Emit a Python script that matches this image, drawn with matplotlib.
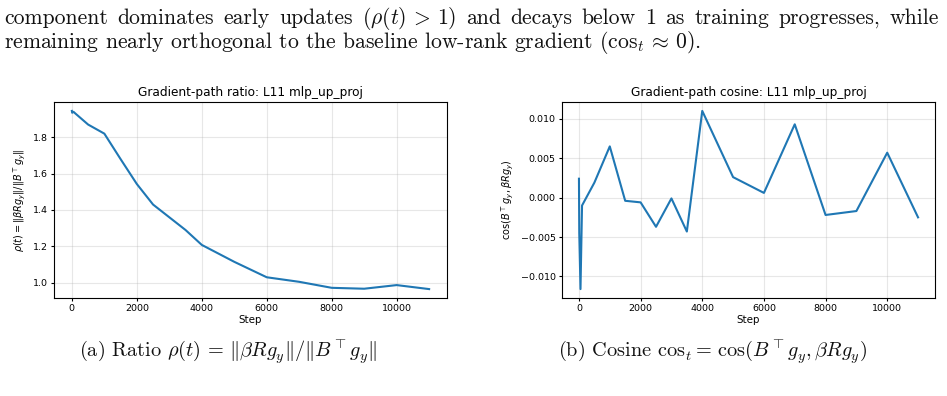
import matplotlib
matplotlib.use("Agg")
import matplotlib.pyplot as plt

# steps logged during training
steps = [0, 10, 50, 100, 500, 1000, 1500, 2000, 2500, 3000, 3500,
         4000, 5000, 6000, 7000, 8000, 9000, 10000, 11000]

# gradient-path ratio rho(t)
ratio = [1.945, 1.935, 1.94, 1.932, 1.87, 1.82, 1.68, 1.543, 1.43, 1.36, 1.29,
         1.208, 1.115, 1.03, 1.005, 0.972, 0.967, 0.987, 0.965]

# gradient-path cosine
cosine = [0.0024, -0.0045, -0.0116, -0.0010, 0.0019, 0.0065, -0.0004, -0.0006,
          -0.0037, -0.0001, -0.0043, 0.0110, 0.0026, 0.0006, 0.0093, -0.0022,
          -0.0017, 0.0057, -0.0025]

line1 = r"component dominates early updates ($\rho(t)\,>\,1$) and decays below 1 as training progresses, while"
line2 = r"remaining nearly orthogonal to the baseline low-rank gradient ($\cos_t\approx\,0$)."
cap_a = r"(a) Ratio $\rho(t)\,=\,\|\beta R g_y\| / \|B^{\top} g_y\|$"
cap_b = r"(b) Cosine $\cos_t\!=\,\cos(B^{\top} g_y, \beta R g_y)$"

fig = plt.figure(figsize=(9.47, 3.96), dpi=100)
W, H = 947, 396

serif = dict(fontfamily="cmr10", math_fontfamily="cm", fontsize=15.6, color="#111111")

# first line is justified like the paper text: spread the words over the full width
renderer = fig.canvas.get_renderer()
words = line1.split(" ")
texts = [fig.text(0, 1 - 24 / H, w, ha="left", va="baseline", **serif) for w in words]
widths = [t.get_window_extent(renderer).width for t in texts]
gap = (935 - sum(widths)) / (len(words) - 1)
x = 4
for t, w in zip(texts, widths):
    t.set_x(x / W)
    x += w + gap

fig.text(4 / W, 1 - 48 / H, line2, ha="left", va="baseline", **serif)
cap = dict(serif, fontsize=14.6)
fig.text(228 / W, 1 - 358 / H, cap_a, ha="center", va="baseline", **cap)
fig.text(713 / W, 1 - 358 / H, cap_b, ha="center", va="baseline", **cap)

ax1 = fig.add_axes([54 / W, 1 - 298 / H, 393 / W, 196 / H])
ax2 = fig.add_axes([562 / W, 1 - 298 / H, 373 / W, 196 / H])

ax1.plot(steps, ratio, color="#1f77b4", lw=1.5)
ax1.set_title("Gradient-path ratio: L11 mlp_up_proj", fontsize=8.7, pad=4)
ax1.set_xlabel("Step", fontsize=7.4, labelpad=1)
ax1.set_ylabel(r"$\rho(t) = \|\beta R g_y\| / \|B^{\top} g_y\|$", fontsize=7)

ax2.plot(steps, cosine, color="#1f77b4", lw=1.5)
ax2.set_title("Gradient-path cosine: L11 mlp_up_proj", fontsize=8.7, pad=4)
ax2.set_xlabel("Step", fontsize=7.4, labelpad=1)
ax2.set_ylabel(r"$\cos(B^{\top} g_y, \beta R g_y)$", fontsize=7)

for ax in (ax1, ax2):
    ax.grid(True, alpha=0.3)
    ax.tick_params(labelsize=6.8, length=2.5, pad=2)

fig.savefig("out.png", dpi=100)
